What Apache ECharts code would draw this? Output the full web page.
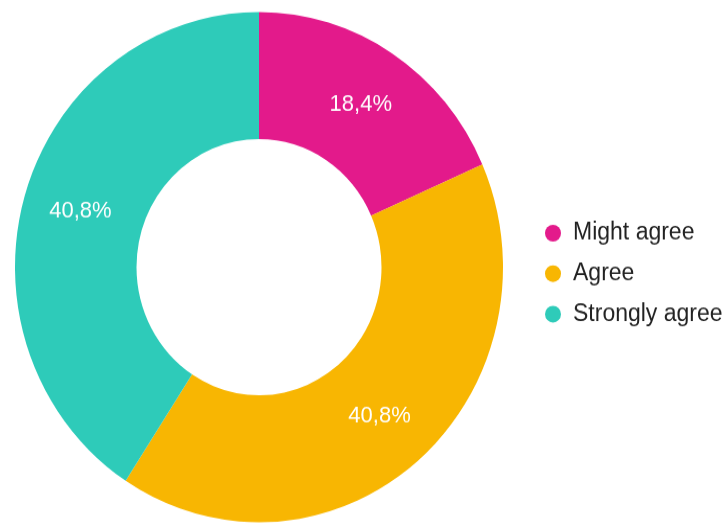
<!DOCTYPE html>
<html>
<head>
<meta charset="utf-8">
<script src="https://cdn.jsdelivr.net/npm/echarts@6/dist/echarts.min.js"></script>
<style>
  html, body { margin: 0; padding: 0; background: #ffffff; width: 726px; height: 527px; }
  /* the chart is drawn slightly flattened and stretched back to full height */
  #chart { width: 726px; height: 504px; transform: scale(1, 1.0456); transform-origin: 0 0; }
</style>
</head>
<body>
<div id="chart"></div>
<script>
// Survey answers (share of respondents, %)
const categories = ['Might agree', 'Agree', 'Strongly agree'];
const shares = [18.4, 40.8, 40.8];
const colors = ['#E31A8B', '#F8B602', '#2ECBB9'];

const chart = echarts.init(document.getElementById('chart'), null, { renderer: 'canvas' });

chart.setOption({
  animation: false,
  color: colors,
  legend: {
    orient: 'vertical',
    left: 540,
    top: 206,
    icon: 'circle',
    itemWidth: 16,
    itemHeight: 16,
    itemGap: 14.7,
    selectedMode: false,
    textStyle: {
      fontFamily: 'Liberation Sans, Arial, sans-serif',
      fontSize: 23,
      lineHeight: 24,
      padding: [0, 0, 0, 7],
      color: '#222222'
    },
    data: categories
  },
  series: [{
    type: 'pie',
    center: [259, 255.5],
    radius: [122.5, 244],
    startAngle: 90,
    clockwise: true,
    avoidLabelOverlap: false,
    emphasis: { disabled: true },
    itemStyle: { borderWidth: 0 },
    label: {
      show: true,
      position: 'inside',
      color: '#ffffff',
      fontFamily: 'Liberation Sans, Arial, sans-serif',
      fontSize: 22,
      formatter: p => String(p.value).replace('.', ',') + '%'
    },
    labelLine: { show: false },
    data: categories.map((name, i) => ({ name, value: shares[i] }))
  }]
});
</script>
</body>
</html>
